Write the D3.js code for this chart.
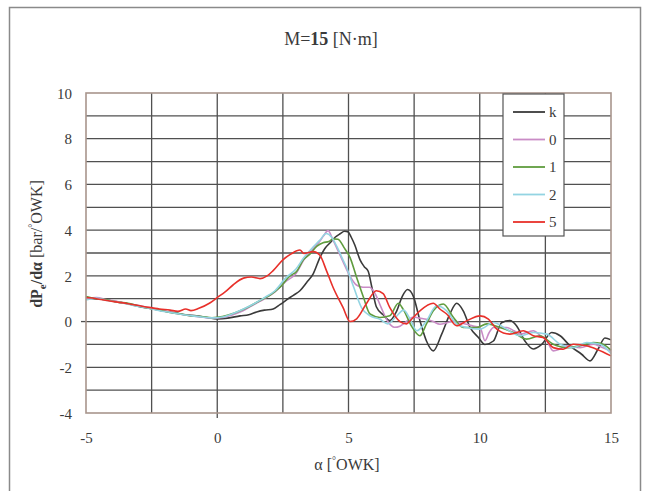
<!DOCTYPE html>
<html>
<head>
<meta charset="utf-8">
<script src="https://cdn.jsdelivr.net/npm/d3@7"></script>
<style>
  html,body{margin:0;padding:0;background:#fff;}
  svg{display:block;}
  text{font-family:"Liberation Serif","DejaVu Serif",serif;fill:#3a3a3a;}
</style>
</head>
<body>
<svg id="chart" width="645" height="491"></svg>
<script>
// ---- data ----
const seriesNames = ["k", "0", "1", "2", "5"];
const seriesColors = ["#3a3a3a", "#c98cc6", "#5f9c3e", "#93d4e2", "#e8302a"];
const xTicks = [-5, 0, 5, 10, 15];
const yTicks = [-4, -2, 0, 2, 4, 6, 8, 10];

const dataK = [[-5,1.05],[-4.7,1.0],[-4.4,0.98],[-4,0.9],[-3.6,0.82],[-3.2,0.72],[-2.8,0.62],[-2.4,0.55],[-2,0.45],[-1.6,0.38],[-1.2,0.3],[-0.8,0.25],[-0.4,0.18],[0,0.12],[0.4,0.15],[0.87,0.25],[1.2,0.3],[1.5,0.42],[1.8,0.5],[2.13,0.55],[2.4,0.75],[2.64,0.95],[2.9,1.15],[3.15,1.35],[3.4,1.7],[3.66,2.1],[3.91,2.8],[4.1,3.2],[4.3,3.45],[4.5,3.7],[4.68,3.84],[4.85,3.95],[4.99,3.92],[5.1,3.7],[5.24,3.35],[5.44,2.7],[5.6,2.4],[5.75,2.2],[5.89,1.5],[6.06,0.65],[6.32,0.3],[6.57,0.05],[6.83,0.45],[7.05,1.1],[7.25,1.4],[7.47,1.1],[7.72,0.05],[7.97,-0.85],[8.23,-1.28],[8.55,-0.55],[8.87,0.35],[9.12,0.8],[9.37,0.47],[9.63,-0.25],[9.95,-0.7],[10.2,-1.0],[10.52,-0.85],[10.83,-0.05],[11.15,0.05],[11.4,-0.18],[11.72,-0.85],[12.04,-1.2],[12.36,-1.0],[12.74,-0.48],[13.06,-0.62],[13.44,-1.06],[13.88,-1.43],[14.2,-1.72],[14.51,-1.2],[14.77,-0.72],[15,-0.8]];
const data0 = [[-5,1.0],[-4.6,1.05],[-4.2,0.95],[-3.8,0.88],[-3.4,0.78],[-3,0.7],[-2.6,0.6],[-2.2,0.5],[-1.8,0.42],[-1.4,0.32],[-1,0.25],[-0.6,0.2],[-0.2,0.15],[0.2,0.18],[0.6,0.3],[1,0.48],[1.4,0.75],[1.8,1.0],[2.2,1.3],[2.6,1.75],[3.0,2.1],[3.3,2.7],[3.66,3.2],[3.9,3.5],[4.05,3.75],[4.22,3.98],[4.4,3.6],[4.6,3.1],[4.8,2.6],[5.05,2.0],[5.3,1.6],[5.55,1.5],[5.8,1.5],[6.0,1.25],[6.25,0.6],[6.5,0.0],[6.75,-0.25],[6.96,-0.2],[7.2,0.0],[7.47,0.2],[7.72,0.15],[7.97,0.1],[8.23,0.0],[8.48,-0.12],[8.75,-0.05],[9.0,0.03],[9.25,-0.05],[9.5,-0.12],[9.75,-0.2],[10.01,-0.26],[10.2,-0.84],[10.35,-0.5],[10.52,-0.26],[11.02,-0.26],[11.3,-0.4],[11.53,-0.55],[12.04,-0.4],[12.3,-0.6],[12.55,-0.84],[12.8,-1.28],[13.05,-1.2],[13.31,-1.06],[13.82,-1.14],[14.33,-0.99],[14.6,-1.1],[15,-1.3]];
const data1 = [[-5,1.1],[-4.6,1.0],[-4.2,0.95],[-3.8,0.85],[-3.4,0.8],[-3,0.68],[-2.6,0.58],[-2.2,0.5],[-1.8,0.4],[-1.4,0.33],[-1,0.25],[-0.6,0.22],[-0.2,0.17],[0.2,0.22],[0.6,0.35],[0.87,0.47],[1.2,0.65],[1.63,0.92],[2.0,1.15],[2.39,1.5],[2.77,2.0],[3.03,2.2],[3.28,2.7],[3.53,2.95],[3.8,3.3],[4.03,3.45],[4.25,3.5],[4.41,3.62],[4.6,3.6],[4.85,3.2],[5.06,2.8],[5.31,1.93],[5.57,1.06],[5.82,0.33],[6.2,0.18],[6.57,0.25],[6.9,0.8],[7.1,0.5],[7.4,-0.2],[7.72,-0.62],[7.97,-0.1],[8.23,0.47],[8.61,0.77],[9.0,0.18],[9.37,-0.26],[9.88,-0.26],[10.27,-0.1],[10.77,-0.26],[11.28,-0.48],[11.78,-0.77],[12.29,-0.62],[12.8,-0.99],[13.31,-1.14],[13.82,-1.06],[14.33,-0.92],[14.6,-0.95],[15,-1.25]];
const data2 = [[-5,0.95],[-4.6,1.02],[-4.2,0.92],[-3.8,0.86],[-3.4,0.76],[-3,0.66],[-2.6,0.58],[-2.2,0.47],[-1.8,0.4],[-1.4,0.32],[-1,0.26],[-0.6,0.2],[-0.2,0.16],[0.2,0.2],[0.6,0.35],[1,0.55],[1.4,0.78],[1.8,1.05],[2.2,1.35],[2.6,1.9],[3.0,2.3],[3.3,2.8],[3.6,3.2],[3.9,3.55],[4.15,3.85],[4.35,3.7],[4.55,3.3],[4.75,2.8],[4.95,2.3],[5.2,1.5],[5.5,0.6],[5.82,0.25],[6.2,0.1],[6.5,-0.1],[6.8,0.2],[7.1,0.5],[7.35,0.1],[7.6,-0.4],[7.97,0.03],[8.36,0.69],[8.74,0.47],[9.12,-0.11],[9.5,-0.26],[10.01,-0.33],[10.52,-0.04],[11.02,-0.33],[11.53,-0.62],[12.04,-0.48],[12.55,-0.55],[13.06,-0.99],[13.56,-1.14],[14.07,-0.92],[14.58,-0.99],[15,-1.4]];
const data5 = [[-5,1.05],[-4.6,1.0],[-4.2,0.92],[-3.8,0.85],[-3.4,0.78],[-3,0.7],[-2.6,0.62],[-2.2,0.55],[-1.8,0.5],[-1.5,0.45],[-1.2,0.55],[-1,0.48],[-0.7,0.58],[-0.3,0.8],[0,1.05],[0.3,1.3],[0.6,1.6],[1,1.9],[1.3,1.95],[1.63,1.88],[1.9,2.0],[2.13,2.23],[2.5,2.7],[2.8,2.95],[3.15,3.13],[3.3,2.98],[3.66,3.06],[3.91,2.9],[4.16,2.23],[4.41,1.5],[4.79,0.62],[5.06,0.0],[5.31,0.12],[5.68,0.78],[6.06,1.35],[6.32,1.22],[6.57,0.62],[6.96,0.0],[7.21,-0.1],[7.4,0.1],[7.72,0.47],[8.23,0.8],[8.48,0.55],[8.74,0.33],[9.12,-0.18],[9.5,0.03],[10.01,0.25],[10.33,0.11],[10.65,-0.33],[11.15,-0.55],[11.66,-0.4],[12.04,-0.62],[12.42,-0.7],[12.8,-1.14],[13.18,-1.21],[13.56,-0.99],[14.07,-1.06],[14.45,-1.21],[15,-1.5]];
const allSeries = [dataK, data0, data1, data2, data5];

// ---- layout ----
const svg = d3.select("#chart");
const L = 86, R = 611, T = 93, B = 413;
const x = d3.scaleLinear().domain([-5, 15]).range([L, R]);
const y = d3.scaleLinear().domain([-4, 10]).range([B, T]);
const fmt = d => String(d);

// outer frame
svg.append("rect").attr("x", 9.5).attr("y", 7.5).attr("width", 631).attr("height", 500)
  .attr("fill", "none").attr("stroke", "#8a8a8a").attr("stroke-width", 1.5);

// title
const title = svg.append("text").attr("x", 331).attr("y", 45).attr("text-anchor", "middle")
  .style("font-size", "18px");
title.append("tspan").text("M=");
title.append("tspan").attr("font-weight", "bold").text("15");
title.append("tspan").text(" [N·m]");

// grid
const gx = d3.range(-2.5, 15, 2.5);
const gy = d3.range(-3, 10, 1);
svg.append("g").selectAll("line").data(gx).join("line")
  .attr("x1", d => x(d)).attr("x2", d => x(d)).attr("y1", T).attr("y2", B)
  .attr("stroke", "#505050").attr("stroke-width", 1.3);
svg.append("g").selectAll("line").data(gy).join("line")
  .attr("x1", L).attr("x2", R).attr("y1", d => y(d)).attr("y2", d => y(d))
  .attr("stroke", "#505050").attr("stroke-width", 1.3);

// small ticks at zero crossing
svg.append("line").attr("x1", L - 5).attr("x2", L).attr("y1", y(0)).attr("y2", y(0)).attr("stroke", "#505050").attr("stroke-width", 1.3);
svg.append("line").attr("x1", x(0)).attr("x2", x(0)).attr("y1", B).attr("y2", B + 5).attr("stroke", "#505050").attr("stroke-width", 1.3);

// axes (labels only)
const xAxis = d3.axisBottom(x).tickValues(xTicks).tickFormat(fmt).tickSize(0).tickPadding(0);
const gxA = svg.append("g").attr("transform", `translate(0,${B + 30})`).call(xAxis);
gxA.select(".domain").remove();
gxA.selectAll("text").attr("dy", 0).style("font-size", "15px")
  .style("font-family", "'Liberation Serif',serif").attr("fill", "#3a3a3a");

const yAxis = d3.axisLeft(y).tickValues(yTicks).tickFormat(fmt).tickSize(0).tickPadding(0);
const gyA = svg.append("g").attr("transform", `translate(${L - 14},0)`).call(yAxis);
gyA.select(".domain").remove();
gyA.selectAll("text").attr("dy", "0.35em").style("font-size", "15px")
  .style("font-family", "'Liberation Serif',serif").attr("fill", "#3a3a3a");

// lines
const line = d3.line().x(d => x(d[0])).y(d => y(d[1])).curve(d3.curveMonotoneX);
svg.append("g").selectAll("path").data(allSeries).join("path")
  .attr("d", d => line(d)).attr("fill", "none")
  .attr("stroke", (d, i) => seriesColors[i]).attr("stroke-width", 1.6)
  .attr("stroke-linejoin", "round");

// plot frame
svg.append("rect").attr("x", L).attr("y", T).attr("width", R - L).attr("height", B - T)
  .attr("fill", "none").attr("stroke", "#a8958c").attr("stroke-width", 1.6);

// axis titles
const xt = svg.append("text").attr("x", 347).attr("y", 470).attr("text-anchor", "middle")
  .style("font-size", "16px");
xt.append("tspan").text("α [");
xt.append("tspan").attr("dy", -6).style("font-size", "10px").text("°");
xt.append("tspan").attr("dy", 6).text("OWK]");

const yt = svg.append("text").attr("transform", "translate(42,244) rotate(-90)")
  .attr("text-anchor", "middle").style("font-size", "16px");
yt.append("tspan").attr("font-weight", "bold").text("dP");
yt.append("tspan").attr("font-weight", "bold").attr("dy", 4).style("font-size", "11px").text("e");
yt.append("tspan").attr("font-weight", "bold").attr("dy", -4).text("/dα");
yt.append("tspan").text(" [bar/");
yt.append("tspan").attr("dy", -6).style("font-size", "10px").text("°");
yt.append("tspan").attr("dy", 6).text("OWK]");

// legend
const lg = svg.append("g");
lg.append("rect").attr("x", 503).attr("y", 94).attr("width", 61).attr("height", 142)
  .attr("fill", "#fff").attr("stroke", "#555").attr("stroke-width", 1.2);
const items = lg.selectAll("g.item").data(seriesNames).join("g")
  .attr("transform", (d, i) => `translate(0,${112 + i * 27.5})`);
items.append("line").attr("x1", 513).attr("x2", 545).attr("y1", 0).attr("y2", 0)
  .attr("stroke", (d, i) => seriesColors[i]).attr("stroke-width", 1.8);
items.append("text").attr("x", 549).attr("y", 0).attr("dy", "0.35em")
  .style("font-size", "15px").text(d => d);
</script>
</body>
</html>
